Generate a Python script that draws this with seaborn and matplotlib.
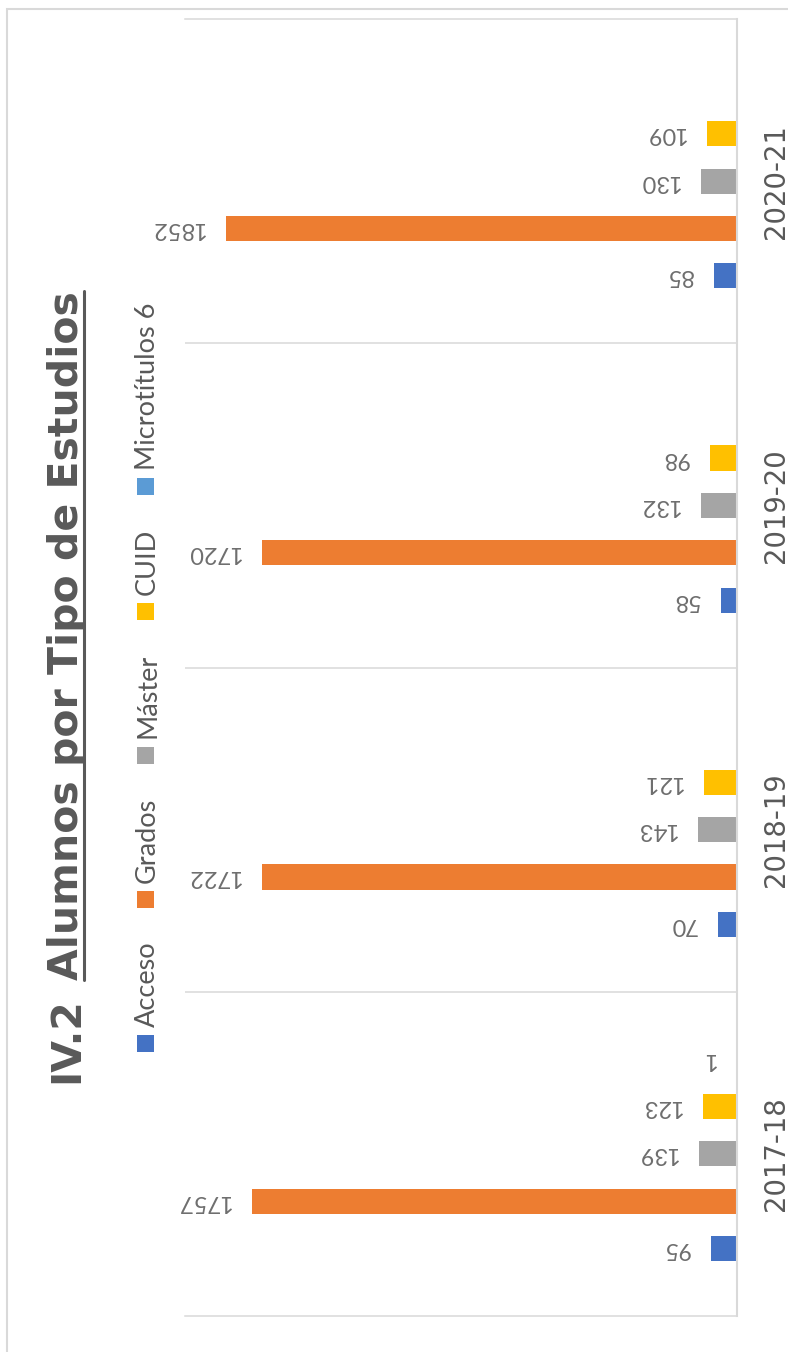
import pandas as pd
import matplotlib
matplotlib.use("Agg")
import matplotlib.pyplot as plt
from matplotlib.patches import Rectangle
from matplotlib.lines import Line2D
import seaborn as sns

# Datos del gráfico
cursos = ["2017-18", "2018-19", "2019-20", "2020-21"]
tipos = ["Acceso", "Grados", "Máster", "CUID", "Microtítulos 6"]
acceso = [95, 70, 58, 85]
grados = [1757, 1722, 1720, 1852]
master = [139, 143, 132, 130]
cuid = [123, 121, 98, 109]
microtitulos = [1, None, None, None]
colores = ["#4472C4", "#ED7D31", "#A5A5A5", "#FFC000", "#5B9BD5"]

W, H = 788, 1352
gris = "#595959"
linea = "#D9D9D9"

tabla = pd.DataFrame({"Curso": cursos, "Acceso": acceso, "Grados": grados,
                      "Máster": master, "CUID": cuid, "Microtítulos 6": microtitulos})
largo = tabla.melt(id_vars="Curso", var_name="Tipo", value_name="Alumnos").dropna()

sns.set_theme(style="white")
plt.rcParams["font.family"] = ["Lato", "DejaVu Sans"]

fig = plt.figure(figsize=(W / 100, H / 100), dpi=100)
ax = fig.add_axes([185 / W, 1 - 1316 / H, (737 - 185) / W, (1316 - 19) / H])

sns.barplot(data=largo, y="Curso", x="Alumnos", hue="Tipo", order=cursos, hue_order=tipos,
            palette=dict(zip(tipos, colores)), orient="h", width=0.73, gap=0.47,
            saturation=1, errorbar=None, legend=False, linewidth=0, ax=ax)

# el gráfico original está girado: valores crecen hacia la izquierda
ax.set_xlim(2000, 0)
ax.set_ylim(-0.5, 3.5)
ax.set_xlabel("")
ax.set_ylabel("")
ax.set_xticks([])

ax.yaxis.tick_right()
ax.set_yticks(range(len(cursos)))
ax.set_yticklabels(cursos, rotation=90, va="center", fontsize=19.8, color=gris, family="DejaVu Sans")
ax.tick_params(axis="y", which="major", length=0, pad=18)

# líneas de separación entre cursos
ax.set_yticks([0.5, 1.5, 2.5], minor=True)
ax.tick_params(axis="y", which="minor", length=0)
ax.grid(False)
ax.grid(which="minor", axis="y", color=linea, lw=1.1)

ax.spines["left"].set_visible(False)
for s in ["top", "bottom"]:
    ax.spines[s].set_color(linea)
    ax.spines[s].set_linewidth(1.1)
ax.spines["right"].set_color(linea)
ax.spines["right"].set_linewidth(1.5)

# etiquetas de datos (giradas)
for cont in ax.containers:
    ax.bar_label(cont, fmt="%g", padding=15, rotation=180, fontsize=17, color="#6e6e6e")

# título con subrayado
t1 = fig.text(47 / W, 1 - 1083 / H, "IV.2", rotation=90, ha="left", va="bottom",
              fontsize=29.5, fontweight="bold", color=gris, family="DejaVu Sans")
t2 = fig.text(47 / W, 1 - 980 / H, "Alumnos por Tipo de Estudios", rotation=90, ha="left",
              va="bottom", fontsize=29.5, fontweight="bold", color=gris, family="DejaVu Sans")

# leyenda hecha a mano (girada)
etiquetas = [fig.text(135 / W, 0.5, t, rotation=90, ha="left", va="bottom",
                      fontsize=19.5, color=gris) for t in tipos]

fig.canvas.draw()
r = fig.canvas.get_renderer()

bb = t2.get_window_extent(r)
fig.add_artist(Line2D([84 / W, 84 / W], [bb.y0 / H, bb.y1 / H], transform=fig.transFigure,
                      color=gris, lw=2.2))

largos = [t.get_window_extent(r).height for t in etiquetas]
lado, sep = 17, 8
inicio, fin = 1052, 303
hueco = ((inicio - fin) - sum(largos) - len(tipos) * (lado + sep)) / (len(tipos) - 1)
y = inicio
for col, txt, L in zip(colores, etiquetas, largos):
    fig.add_artist(Rectangle((137 / W, 1 - y / H), lado / W, lado / H,
                             transform=fig.transFigure, color=col, lw=0))
    txt.set_y(1 - (y - lado - sep) / H)
    y = y - lado - sep - L - hueco

# marco exterior
fig.add_artist(Rectangle((7 / W, -0.05), 1.0, 1 - 9 / H + 0.05, fill=False,
                         ec=linea, lw=1.5, transform=fig.transFigure))

fig.savefig("out.png", dpi=100)
